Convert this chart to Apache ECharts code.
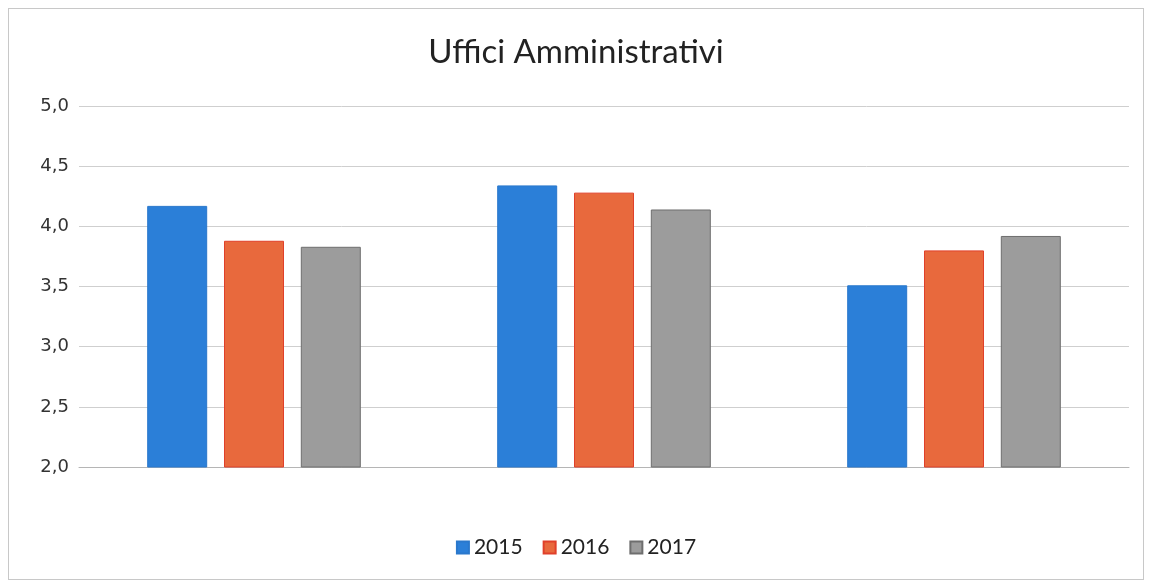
<!DOCTYPE html>
<html>
<head>
<meta charset="utf-8">
<script src="https://cdn.jsdelivr.net/npm/echarts@6/dist/echarts.min.js"></script>
<style>
  html, body { margin: 0; padding: 0; background: #fff; }
  #chart { position: absolute; left: 8px; top: 8px; width: 1134px; height: 570px; border: 1px solid #c8c8c8; }
</style>
</head>
<body>
<div id="chart"></div>
<script>
// dati
const categories = ["Gruppo 1", "Gruppo 2", "Gruppo 3"];
const years = ["2015", "2016", "2017"];
const values2015 = [4.17, 4.34, 3.51];
const values2016 = [3.88, 4.28, 3.80];
const values2017 = [3.83, 4.14, 3.92];
const yTicks = [2.0, 2.5, 3.0, 3.5, 4.0, 4.5, 5.0];

const chart = echarts.init(document.getElementById("chart"));

// colori delle serie (riempimento, bordo)
const colors = [
  ["#2b7fd8", "#2a78cc"],
  ["#e8693d", "#e0402a"],
  ["#9c9c9c", "#6e6e6e"]
];
const seriesData = [values2015, values2016, values2017];

chart.setOption({
  animation: false,
  title: {
    text: "Uffici Amministrativi",
    left: "center",
    top: 22,
    textStyle: {
      fontFamily: "Lato",
      fontWeight: "normal",
      fontSize: 33,
      color: "#222"
    }
  },
  grid: {
    left: 70,
    right: 14,
    top: 97,
    bottom: 112
  },
  legend: {
    data: years,
    bottom: 16,
    left: "center",
    icon: "rect",
    itemWidth: 12,
    itemHeight: 12,
    itemGap: 20,
    textStyle: {
      fontFamily: "Lato",
      fontSize: 21,
      color: "#222"
    }
  },
  xAxis: {
    type: "category",
    data: categories,
    axisTick: { show: false },
    axisLabel: { show: false },
    axisLine: { lineStyle: { color: "#b5b5b5" } }
  },
  yAxis: {
    type: "value",
    min: yTicks[0],
    max: yTicks[yTicks.length - 1],
    interval: 0.5,
    axisLine: { show: false },
    axisTick: { show: false },
    axisLabel: {
      margin: 10,
      fontFamily: "DejaVu Sans",
      fontSize: 18,
      color: "#333",
      formatter: v => v.toFixed(1).replace(".", ",")
    },
    splitLine: { lineStyle: { color: "#cfcfcf" } }
  },
  series: years.map((y, i) => ({
    name: y,
    type: "bar",
    data: seriesData[i],
    barWidth: 60,
    barGap: "28%",
    itemStyle: {
      color: colors[i][0],
      borderColor: colors[i][1],
      borderWidth: 1
    }
  }))
});
</script>
</body>
</html>
